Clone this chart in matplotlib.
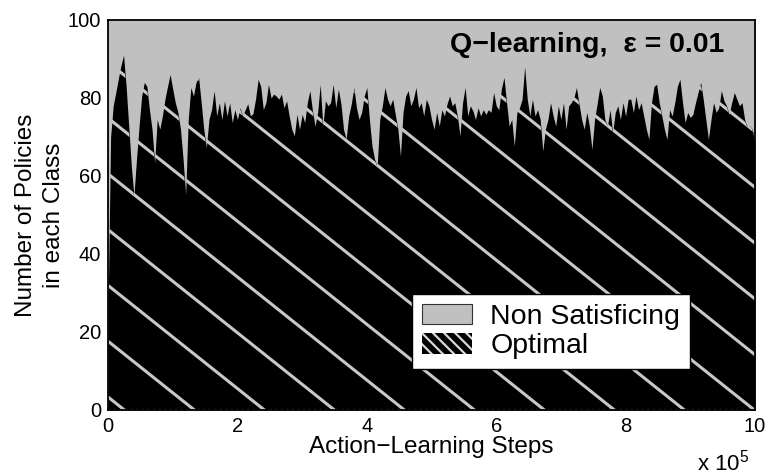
import numpy as np
import matplotlib
matplotlib.use('Agg')
import matplotlib.pyplot as plt
from matplotlib.patches import Patch

plt.rcParams['font.family'] = ['Liberation Sans', 'DejaVu Sans']
plt.rcParams['mathtext.fontset'] = 'custom'
plt.rcParams['mathtext.rm'] = 'Liberation Sans'
plt.rcParams['hatch.linewidth'] = 1.6

# optimal policies (top of black area), read every 0.04 x 1e5 steps
opt_a = [25, 70, 78, 81.4, 85, 88.3, 91, 83, 72.8, 62.6,
         55, 64.3, 72.8, 80.5, 84, 83, 77, 72, 63.4, 74.5,
         72, 75.4, 79.7, 83, 86, 82.3, 78.8, 76.3, 72, 64.3,
         55.3, 74.5, 82.7, 80.5, 84, 85.3, 78.8, 72, 67.3, 74.5,
         77, 81.9, 75.4, 78.8, 74.5, 79.3, 75.4, 78.8, 73.7, 77,
         74.5]
opt_b = [77.5, 75.4, 77, 78.5, 75.4, 76, 79.7, 84.8, 83, 77,
         78.8, 83.5, 80, 81, 80.5, 79.7, 81, 77.5, 79.3, 75.4,
         72, 70.3, 75.8, 72, 75.8, 73.7, 78.8, 81.9, 76.7, 72.8,
         76.3, 83.5, 72.8, 79.3, 78, 78.8, 83.5, 77.5, 82.3, 78.5,
         72, 69.4, 75.4, 78.5, 82.7, 77.5, 74.5, 76.3, 80.5, 82.7]
opt_c = [74.5, 67.7, 64.3, 62.6, 74.5, 78, 82.7, 79.7, 78, 79.7,
         75.8, 72, 65.1, 76.3, 80.5, 81.9, 78, 79.7, 82.7, 77.5,
         78.8, 75.4, 79.7, 78, 74.5, 72, 76.3, 72.8, 77, 75.4,
         78.5, 80.5, 78, 78.8, 75.4, 70.3, 78.8, 82.7, 75.4, 78,
         76.7, 74.5, 77.5, 75.4, 77, 75.8, 77, 76.3, 81.4, 78]
opt_d = [77, 82.3, 85.3, 78.8, 72.8, 74.5, 67.7, 76.3, 77.5, 79.7,
         88, 79.7, 75.4, 79.7, 75.4, 77, 74.5, 66.4, 72, 74.5,
         78.8, 75.4, 72.8, 78, 74.5, 78.8, 72, 78, 78.8, 80,
         82.7, 78.5, 74.5, 72, 76.3, 72.8, 66.8, 74.5, 78.5, 82.7,
         80.5, 74.5, 72.8, 77, 71.1, 76.3, 78, 74.5, 78.8, 75.4,
         79.7]
opt_e = [79.7, 76.3, 80.5, 77, 78.8, 75.4, 72, 69.4, 78.8, 83,
         83.5, 78.8, 75.4, 72, 69.4, 77, 75.4, 78.8, 83, 84.8,
         78.8, 73.7, 76.3, 75, 75.8, 78.8, 81.4, 84, 79.7, 74.5,
         69.4, 74.5, 78.8, 76.3, 77.5, 81.9, 79.3, 78, 75.8, 78.8,
         81.4, 79.7, 78, 78.8, 74.5, 72.5, 72.8, 72, 67.7]
optimal = np.array(opt_a + opt_b + opt_c + opt_d + opt_e)
steps = np.linspace(0, 10, len(optimal))
total = 100

xticks = [0, 2, 4, 6, 8, 10]
yticks = [0, 20, 40, 60, 80, 100]

fig = plt.figure(figsize=(7.7, 4.76), dpi=100)
ax = fig.add_axes([0.1403, 0.1387, 0.8402, 0.8193])
ax.set_facecolor('#c0c0c0')

ax.fill_between(steps, optimal, total, color='#c0c0c0', lw=0)
black = ax.fill_between(steps, 0, optimal, color='black', lw=0)

# sparse diagonal hatch, clipped to the black area
clip = black.get_paths()[0]
for k in range(18):
    x0 = 0.0252 + 0.1082 * k
    xs = np.array([x0 - 2, x0 + 0.05])
    ln, = ax.plot(xs, -1.322 * (xs - x0), color='#c8c8c8', lw=2.2,
                  transform=ax.transAxes, solid_capstyle='butt')
    ln.set_clip_path(clip, black.get_transform())

ax.axhline(0.3, color='#bdbdbd', lw=0.8, ls=(0, (2, 3)))

ax.set_xlim(0, 10)
ax.set_ylim(0, 100)
ax.set_xticks(xticks)
ax.set_yticks(yticks)
ax.tick_params(direction='in', length=0, labelsize=14.5, pad=5)
for s in ax.spines.values():
    s.set_linewidth(1.3)

ax.set_xlabel('Action\u2212Learning Steps', fontsize=17.5, labelpad=0)
ax.set_ylabel('Number of Policies\nin each Class', fontsize=17.5, linespacing=1.35)
ax.yaxis.set_label_coords(-0.066, 0.5)

ax.text(0.952, 0.935, 'Q\u2212learning,  \u03b5 = 0.01', transform=ax.transAxes,
        ha='right', va='center', fontsize=20.5, fontweight='bold')

fig.text(0.905, 0.012, r'x 10$^5$', fontsize=16)

handles = [Patch(facecolor='#c0c0c0', edgecolor='#333333', lw=0.8),
           Patch(facecolor='black', edgecolor='#d8d8d8', hatch='\\\\\\', lw=0)]
leg = ax.legend(handles, ['Non Satisficing', 'Optimal'], loc='lower left',
                bbox_to_anchor=(0.47, 0.105), borderaxespad=0, fontsize=20.5,
                handlelength=1.75, handleheight=0.75, handletextpad=0.65,
                labelspacing=0.1, borderpad=0.35, fancybox=False,
                framealpha=1, edgecolor='black')
leg.get_frame().set_linewidth(1.0)

fig.savefig('out.png', dpi=100)
